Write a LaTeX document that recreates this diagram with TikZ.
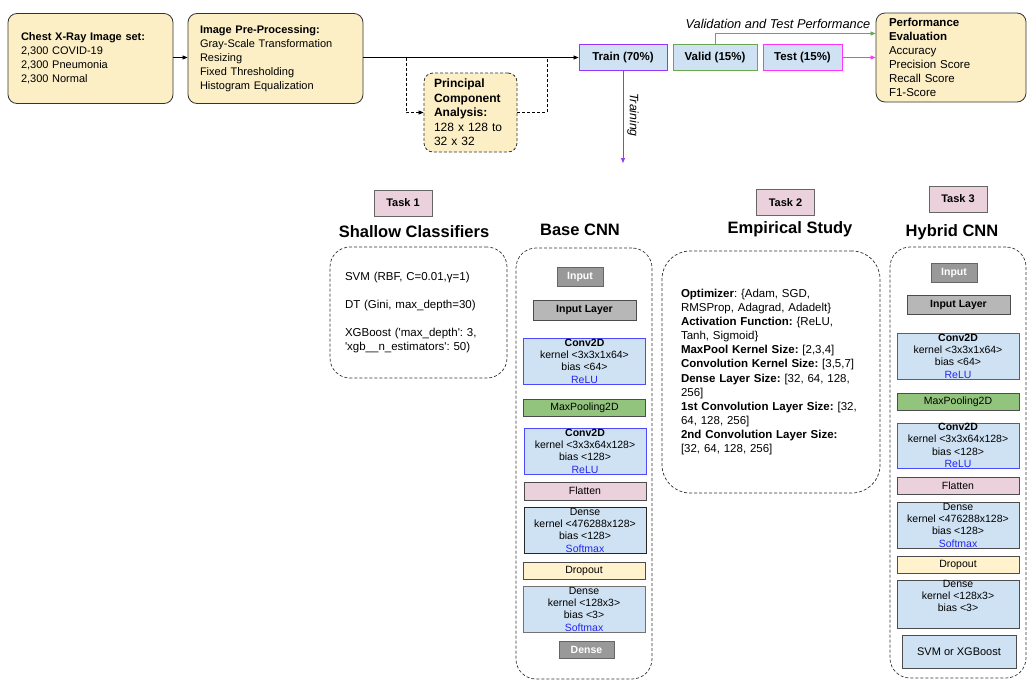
\documentclass[tikz,border=0pt]{standalone}
\usepackage{fontspec}
\setmainfont{Liberation Sans}
\usetikzlibrary{arrows.meta}
\frenchspacing

\definecolor{stageyellow}{HTML}{FCEFC6}
\definecolor{layerblue}{HTML}{CFE2F3}
\definecolor{taskpink}{HTML}{EAD1DC}
\definecolor{poolgreen}{HTML}{93C47D}
\definecolor{dropyellow}{HTML}{FFF2CC}
\definecolor{inputgray}{HTML}{999999}
\definecolor{layergray}{HTML}{B7B7B7}
\definecolor{convblue}{HTML}{4A4AFF}
\definecolor{actblue}{HTML}{2525F0}
\definecolor{trainpurple}{HTML}{9933FF}
\definecolor{validgreen}{HTML}{6AA84F}
\definecolor{testpink}{HTML}{FF33FF}

\newcommand\bodysize{\fontsize{11.5}{14}\selectfont}
\newcommand\layersize{\fontsize{10.5}{12.3}\selectfont}
\newcommand\act[1]{\textcolor{actblue}{#1}}

\tikzset{
  stage/.style={draw=black!80, fill=stageyellow, rounded corners=9pt, line width=0.8pt, align=left, font=\bodysize, inner ysep=0pt},
  split/.style={draw=#1, fill=layerblue, line width=0.9pt, font=\bodysize\bfseries, minimum height=26pt, inner sep=0pt},
  flow/.style={line width=0.7pt, -{Triangle[length=5pt,width=4pt]}},
  cnnframe/.style={draw=black!80, dash pattern=on 3pt off 2pt, rounded corners=20pt, line width=0.7pt},
  task/.style={draw=black!60, fill=taskpink, line width=0.8pt, minimum width=58pt, minimum height=26pt, inner sep=0pt, font=\fontsize{11}{13}\selectfont\bfseries},
  heading/.style={font=\fontsize{16.5}{19}\selectfont\bfseries},
  layer/.style={draw=black!70, line width=0.8pt, minimum width=122pt, inner sep=0pt, align=center, font=\layersize},
  conv/.style={layer, draw=convblue, fill=layerblue, minimum height=46pt},
  dense/.style={layer, fill=layerblue, minimum height=46pt},
  slim/.style={layer, minimum height=17pt},
  inbox/.style={draw=black!60, fill=inputgray, line width=0.8pt, minimum width=46pt, minimum height=19pt, inner sep=0pt, text=white, font=\layersize\bfseries},
}

\begin{document}
\begin{tikzpicture}[x=1pt,y=-1pt]
\useasboundingbox (0,0) rectangle (1036,694);

\node[stage, inner xsep=13pt, text width=139pt, minimum height=90pt, font=\fontsize{11}{14}\selectfont] (dataset) at (90.5,58.5) {\textbf{Chest X-Ray Image set:}\\2,300 COVID-19\\2,300 Pneumonia\\2,300 Normal};
\node[stage, inner xsep=12pt, text width=151pt, minimum height=90pt, font=\fontsize{11}{14}\selectfont] (prep) at (275.5,58.5) {\textbf{Image Pre-Processing:}\\Gray-Scale Transformation\\Resizing\\Fixed Thresholding\\Histogram Equalization};
\node[stage, dash pattern=on 3pt off 2pt, inner xsep=10pt, text width=73pt, minimum height=79pt, font=\fontsize{12}{14.5}\selectfont] (pca) at (470.5,112.5) {\textbf{Principal}\\\textbf{Component}\\\textbf{Analysis:}\\128 x 128 to\\32 x 32};
\node[split=trainpurple, minimum width=88pt] (train) at (623,57.5) {Train (70\%)};
\node[split=validgreen, minimum width=84pt] (valid) at (715,57.5) {Valid (15\%)};
\node[split=testpink, minimum width=79pt] (test) at (802.5,57.5) {Test (15\%)};
\node[stage, inner xsep=13pt, text width=124pt, minimum height=89pt] (perf) at (951,57.5) {\textbf{Performance}\\\textbf{Evaluation}\\Accuracy\\Precision Score\\Recall Score\\F1-Score};

\coordinate (pcaIn) at (406,57.5);
\coordinate (pcaOut) at (547,57.5);
\coordinate (trainEnd) at (623,163);
\draw[flow] (dataset.east |- train) -- (prep.west |- train);
\draw[flow] (prep.east |- train) -- (train);
\draw[flow, dash pattern=on 3pt off 2pt] (pcaIn) |- (pca);
\draw[line width=0.7pt, dash pattern=on 3pt off 2pt] (pca) -| (pcaOut);
\draw[flow, validgreen] (valid) |- ([yshift=24pt]perf.west);
\draw[flow, testpink] (test) -- (perf);
\draw[flow, trainpurple] (train) -- (trainEnd);
\node[font=\fontsize{12.8}{15}\selectfont\itshape] (vtLabel) at (778,23.5) {Validation and Test Performance};
\node[font=\fontsize{12.2}{15}\selectfont\itshape, rotate=-90] (trainLabel) at (633,115) {Training};

\node[task] (task1) at (403,203) {Task 1};
\node[task] (task2) at (785.5,202.5) {Task 2};
\node[task] (task3) at (958,199) {Task 3};
\node[heading] (shallowTitle) at (414,232) {Shallow Classifiers};
\node[heading] (baseTitle) at (580,230) {Base CNN};
\node[heading] (empTitle) at (790,229) {Empirical Study};
\node[heading] (hybridTitle) at (952,232) {Hybrid CNN};

\node[cnnframe, minimum width=177pt, minimum height=131pt, inner xsep=15pt, text width=147pt, align=left, font=\bodysize] (shallow) at (418.5,312.5) {SVM (RBF, C=0.01,γ=1)\\[14pt]DT (Gini, max\_depth=30)\\[14pt]XGBoost (\textquotesingle max\_depth\textquotesingle: 3,\\\textquotesingle xgb\_\_n\_estimators\textquotesingle: 50)};
\node[cnnframe, rounded corners=28pt, minimum width=218pt, minimum height=242pt, inner xsep=19pt, text width=180pt, align=left, font=\fontsize{11.5}{14.1}\selectfont] (empirical) at (771,372) {\textbf{Optimizer}: \{Adam, SGD,\\RMSProp, Adagrad, Adadelt\}\\\textbf{Activation Function:} \{ReLU,\\Tanh, Sigmoid\}\\\textbf{MaxPool Kernel Size:} [2,3,4]\\\textbf{Convolution Kernel Size:} [3,5,7]\\\textbf{Dense Layer Size:} [32, 64, 128,\\256]\\\textbf{1st Convolution Layer Size:} [32,\\64, 128, 256]\\\textbf{2nd Convolution Layer Size:}\\{}[32, 64, 128, 256]};
\node[cnnframe, minimum width=136pt, minimum height=431pt] (baseFrame) at (584,463.5) {};
\node[cnnframe, minimum width=136pt, minimum height=431pt] (hybridFrame) at (958,462.5) {};

\node[inbox] (bInput) at (580,277) {Input};
\node[layer, fill=layergray, minimum width=103pt, minimum height=20pt, font=\layersize\bfseries] (bInLayer) at (584.5,310) {Input Layer};
\node[conv] (bConvA) at (584.5,361) {\textbf{Conv2D}\\kernel <3x3x1x64>\\bias <64>\\\act{ReLU}};
\node[slim, fill=poolgreen] (bPool) at (584.5,407.5) {MaxPooling2D};
\node[conv] (bConvB) at (585,451) {\textbf{Conv2D}\\kernel <3x3x64x128>\\bias <128>\\\act{ReLU}};
\node[slim, fill=taskpink, minimum height=18pt] (bFlat) at (585,491) {Flatten};
\node[dense, draw=black!85] (bDenseA) at (585,530) {Dense\\kernel <476288x128>\\bias <128>\\\act{Softmax}};
\node[slim, fill=dropyellow] (bDrop) at (584,570.5) {Dropout};
\node[dense, draw=black!55] (bDenseB) at (584,609) {Dense\\kernel <128x3>\\bias <3>\\\act{Softmax}};
\node[inbox, minimum width=55pt, minimum height=17pt] (bOut) at (586.5,649.5) {Dense};

\node[inbox] (hInput) at (954,272.5) {Input};
\node[layer, fill=layergray, minimum width=103pt, minimum height=19pt, font=\layersize\bfseries] (hInLayer) at (958.5,304.5) {Input Layer};
\node[conv] (hConvA) at (958,356) {\textbf{Conv2D}\\kernel <3x3x1x64>\\bias <64>\\\act{ReLU}};
\node[slim, fill=poolgreen] (hPool) at (958,401.5) {MaxPooling2D};
\node[conv, minimum height=45pt] (hConvB) at (958,445.5) {\textbf{Conv2D}\\kernel <3x3x64x128>\\bias <128>\\\act{ReLU}};
\node[slim, fill=taskpink] (hFlat) at (958,485.5) {Flatten};
\node[dense] (hDenseA) at (958,525) {Dense\\kernel <476288x128>\\bias <128>\\\act{Softmax}};
\node[slim, fill=dropyellow] (hDrop) at (958,564.5) {Dropout};
\node[dense] (hDenseB) at (958,604) {Dense\\kernel <128x3>\\bias <3>\\\strut};
\node[layer, fill=layerblue, minimum width=114pt, minimum height=33pt, font=\fontsize{11}{13}\selectfont] (hOut) at (959,651.5) {SVM or XGBoost};
\end{tikzpicture}
\end{document}
